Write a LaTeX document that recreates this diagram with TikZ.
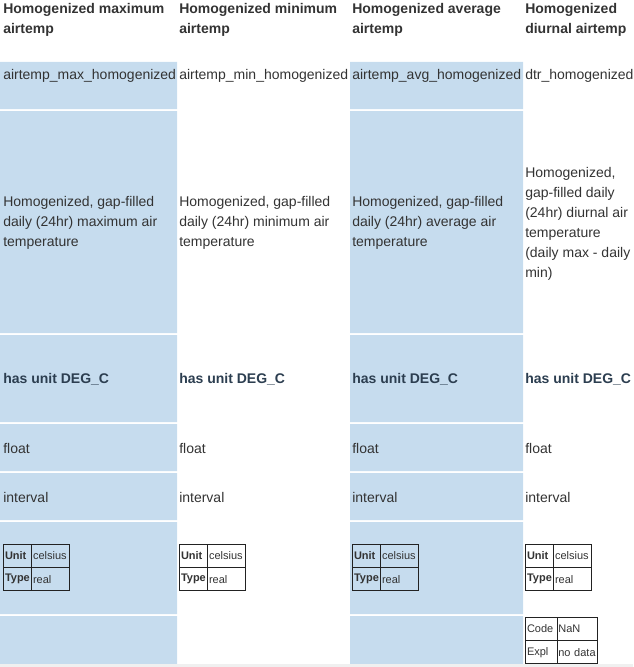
\documentclass[tikz,border=0pt]{standalone}
\usepackage{fontspec}
\setmainfont{Liberation Sans}
\usetikzlibrary{positioning}
\definecolor{cellblue}{HTML}{C6DCEE}
\definecolor{celltext}{HTML}{333333}
\definecolor{unittext}{HTML}{2C3E50}
\definecolor{tabline}{HTML}{222222}
\definecolor{footgrey}{HTML}{F0F0F0}
\tikzset{
  cell/.style={anchor=west, inner sep=0pt, yshift=-1pt, align=left, text=celltext, font=\fontsize{10.5}{15}\selectfont},
  headcell/.style={cell, font=\fontsize{10.5}{15}\selectfont\bfseries},
  unitcell/.style={cell, text=unittext, font=\fontsize{10.5}{15}\selectfont\bfseries},
  keycell/.style={draw=tabline, line width=0.75pt, outer sep=0pt, inner xsep=1.5pt, inner ysep=0pt, text width=18pt, minimum height=17.6pt, align=left, text=celltext, font=\fontsize{8.25}{10}\selectfont\bfseries},
  valcell/.style={keycell, text width=25.5pt, font=\fontsize{8.25}{10}\selectfont},
  codecell/.style={keycell, text width=21pt, font=\fontsize{8.25}{10}\selectfont},
  explcell/.style={keycell, inner xsep=1pt, text width=28pt, font=\fontsize{8.25}{10}\selectfont}
}

\begin{document}
\begin{tikzpicture}[x=0.75pt, y=-0.75pt]
\useasboundingbox (0,0) rectangle (633,667);

% Shaded columns
\fill[cellblue] (0,62) rectangle (177,109) (0,111) rectangle (177,333) (0,335) rectangle (177,422)
  (0,424) rectangle (177,471) (0,473) rectangle (177,520) (0,522) rectangle (177,614) (0,616) rectangle (177,664);
\fill[cellblue] (350,62) rectangle (523,109) (350,111) rectangle (523,333) (350,335) rectangle (523,422)
  (350,424) rectangle (523,471) (350,473) rectangle (523,520) (350,522) rectangle (523,614) (350,616) rectangle (523,664);
\fill[footgrey] (0,664) rectangle (633,667);

% Header
\node (hmax) [headcell] at (3,19) {Homogenized maximum\\airtemp};
\node (hmin) [headcell] at (179,19) {Homogenized minimum\\airtemp};
\node (havg) [headcell] at (352,19) {Homogenized average\\airtemp};
\node (hdtr) [headcell] at (525,19) {Homogenized\\diurnal airtemp};

% Variable names
\node (nmax) [cell] at (3,75) {airtemp\_max\_homogenized};
\node (nmin) [cell] at (179,75) {airtemp\_min\_homogenized};
\node (navg) [cell] at (352,75) {airtemp\_avg\_homogenized};
\node (ndtr) [cell] at (525,75) {dtr\_homogenized};

% Descriptions
\node (dmax) [cell] at (3,222) {Homogenized, gap-filled\\daily (24hr) maximum air\\temperature};
\node (dmin) [cell] at (179,222) {Homogenized, gap-filled\\daily (24hr) minimum air\\temperature};
\node (davg) [cell] at (352,222) {Homogenized, gap-filled\\daily (24hr) average air\\temperature};
\node (ddtr) [cell] at (525,223) {Homogenized,\\gap-filled daily\\(24hr) diurnal air\\temperature\\(daily max - daily\\min)};

% Units
\node (umax) [unitcell] at (3,378) {has unit DEG\_C};
\node (umin) [unitcell] at (179,378) {has unit DEG\_C};
\node (uavg) [unitcell] at (352,378) {has unit DEG\_C};
\node (udtr) [unitcell] at (525,378) {has unit DEG\_C};

% Storage and measurement type
\node (fmax) [cell] at (3,447) {float};
\node (fmin) [cell] at (179,447) {float};
\node (favg) [cell] at (352,447) {float};
\node (fdtr) [cell] at (525,447) {float};
\node (imax) [cell] at (3,496) {interval};
\node (imin) [cell] at (179,496) {interval};
\node (iavg) [cell] at (352,496) {interval};
\node (idtr) [cell] at (525,496) {interval};

% Unit tables
\node (kmax) [keycell, anchor=north west] at (3,544) {Unit};
\node (vmax) [valcell, right=0pt of kmax] {celsius};
\node (tmax) [keycell, below=0pt of kmax] {Type};
\node (rmax) [valcell, below=0pt of vmax] {real};
\node (kmin) [keycell, anchor=north west] at (179,544) {Unit};
\node (vmin) [valcell, right=0pt of kmin] {celsius};
\node (tmin) [keycell, below=0pt of kmin] {Type};
\node (rmin) [valcell, below=0pt of vmin] {real};
\node (kavg) [keycell, anchor=north west] at (352,544) {Unit};
\node (vavg) [valcell, right=0pt of kavg] {celsius};
\node (tavg) [keycell, below=0pt of kavg] {Type};
\node (ravg) [valcell, below=0pt of vavg] {real};
\node (kdtr) [keycell, anchor=north west] at (525,544) {Unit};
\node (vdtr) [valcell, right=0pt of kdtr] {celsius};
\node (tdtr) [keycell, below=0pt of kdtr] {Type};
\node (rdtr) [valcell, below=0pt of vdtr] {real};

% Missing value codes
\node (code) [codecell, anchor=north west] at (525,617) {Code};
\node (nan) [explcell, right=0pt of code] {NaN};
\node (expl) [codecell, below=0pt of code] {Expl};
\node (nodata) [explcell, below=0pt of nan] {no data};

\end{tikzpicture}
\end{document}
